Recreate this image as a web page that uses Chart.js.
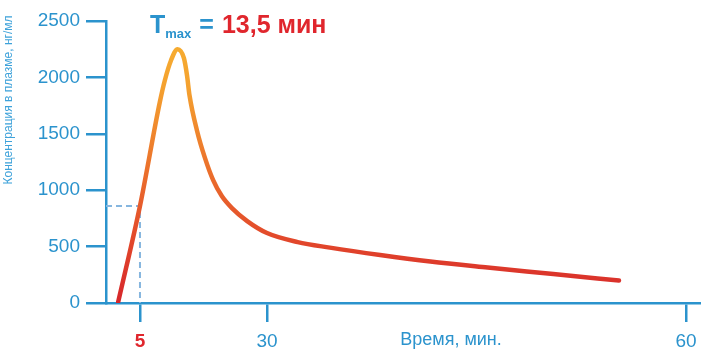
<!DOCTYPE html>
<html>
<head>
<meta charset="utf-8">
<script src="https://cdn.jsdelivr.net/npm/chart.js@4/dist/chart.umd.min.js"></script>
<style>
  html, body { margin: 0; padding: 0; background: #fff; }
  #wrap { width: 701px; height: 349px; position: relative; }
</style>
</head>
<body>
<div id="wrap"><canvas id="chart"></canvas></div>
<script>
// time (min) / concentration (ng/ml)
const curveTime = [1.8, 5, 8.9, 9.9, 11.1, 12.4, 13.65, 14.25, 14.75, 16.2, 17.8, 19.4, 21.1, 23.1, 26.1, 30, 32.2, 34.5, 38.1, 41.7, 45.8, 50.5, 55.2];
const curveConc = [10, 860, 1780, 1975, 2150, 2250, 2170, 2020, 1840, 1532, 1284, 1089, 948, 841, 726, 620, 540, 491, 425, 367, 314, 257, 199];

// dashed guide at t = 5 min
const guideTime = [0, 5, 5];
const guideConc = [860, 860, 0];

const xTickValues = [5, 30, 60];
const yTickMax = 2500;
const yTickStep = 500;

const BLUE = '#2b93cd';
const RED = '#e0262d';

// the time axis in the picture is not linear: stretched after 30 min
const xBreakValues = [0, 5, 30, 60, 61];
const xBreakFractions = [0, 0.0571, 0.2706, 0.9748, 1];

class PiecewiseScale extends Chart.LinearScale {
    static id = 'piecewise';
    static defaults = Chart.LinearScale.defaults;

    getPixelForValue(value) {
        const v = xBreakValues, f = xBreakFractions;
        let i = 1;
        while (i < v.length - 1 && value > v[i]) i++;
        const t = (value - v[i - 1]) / (v[i] - v[i - 1]);
        return this.getPixelForDecimal(f[i - 1] + t * (f[i] - f[i - 1]));
    }

    getValueForPixel(pixel) {
        const d = this.getDecimalForPixel(pixel);
        const v = xBreakValues, f = xBreakFractions;
        let i = 1;
        while (i < f.length - 1 && d > f[i]) i++;
        const t = (d - f[i - 1]) / (f[i] - f[i - 1]);
        return v[i - 1] + t * (v[i] - v[i - 1]);
    }
}
Chart.register(PiecewiseScale);

const curveData = curveTime.map((t, i) => ({ x: t, y: curveConc[i] }));
const guideData = guideTime.map((t, i) => ({ x: t, y: guideConc[i] }));

function curveGradient(context) {
    const { ctx, chartArea, scales } = context.chart;
    if (!chartArea) return '#e0452a';
    const bottom = scales.y.getPixelForValue(0);
    const top = scales.y.getPixelForValue(Math.max(...curveConc));
    const g = ctx.createLinearGradient(0, bottom, 0, top);
    g.addColorStop(0, '#d6262b');
    g.addColorStop(0.25, '#e2482b');
    g.addColorStop(0.55, '#ec742c');
    g.addColorStop(0.85, '#f4a12f');
    g.addColorStop(1, '#f6ab30');
    return g;
}

const labelsPlugin = {
    id: 'labels',
    afterDraw(chart) {
        const ctx = chart.ctx;
        ctx.save();

        // T_max = 13,5 мин
        ctx.textBaseline = 'alphabetic';
        ctx.textAlign = 'left';
        let x = 150;
        ctx.font = 'bold 25px "Liberation Sans", Arial, sans-serif';
        ctx.fillStyle = BLUE;
        ctx.fillText('T', x, 33);
        x += ctx.measureText('T').width;
        ctx.font = 'bold 13px "Liberation Sans", Arial, sans-serif';
        ctx.fillText('max', x, 38);
        x += ctx.measureText('max').width + 8;
        ctx.font = 'bold 25px "Liberation Sans", Arial, sans-serif';
        ctx.fillText('=', x, 33);
        x += ctx.measureText('=').width + 8;
        ctx.fillStyle = RED;
        ctx.fillText('13,5 мин', x, 33);

        // x axis title
        ctx.font = '18px "Liberation Sans", Arial, sans-serif';
        ctx.fillStyle = BLUE;
        ctx.textAlign = 'center';
        ctx.textBaseline = 'middle';
        ctx.fillText('Время, мин.', 451, 340);

        // y axis title
        ctx.translate(9, 100);
        ctx.rotate(-Math.PI / 2);
        ctx.font = '12px "Liberation Sans", Arial, sans-serif';
        ctx.fillStyle = '#3ea2da';
        ctx.fillText('Концентрация в плазме, нг/мл', 0, 0);

        ctx.restore();
    }
};

new Chart(document.getElementById('chart'), {
    type: 'line',
    data: {
        datasets: [
            {
                data: curveData,
                borderColor: curveGradient,
                borderWidth: 4.5,
                borderCapStyle: 'round',
                borderJoinStyle: 'round',
                pointRadius: 0,
                cubicInterpolationMode: 'monotone',
                fill: false,
                order: 1
            },
            {
                data: guideData,
                borderColor: '#86b6df',
                borderWidth: 2,
                borderDash: [6, 4],
                pointRadius: 0,
                tension: 0,
                fill: false,
                order: 2
            }
        ]
    },
    options: {
        responsive: true,
        maintainAspectRatio: false,
        animation: false,
        layout: { padding: { top: 21, right: 0, left: 0, bottom: 0 } },
        plugins: {
            legend: { display: false },
            tooltip: { enabled: false }
        },
        scales: {
            x: {
                type: 'piecewise',
                min: 0,
                max: 61,
                afterBuildTicks: (scale) => {
                    scale.ticks = xTickValues.map(v => ({ value: v }));
                },
                afterFit: (scale) => {
                    scale.height = 46;
                    scale.paddingLeft = 0;
                    scale.paddingRight = 0;
                },
                border: { color: BLUE, width: 2.5 },
                grid: {
                    drawOnChartArea: false,
                    tickLength: 19,
                    color: BLUE,
                    lineWidth: 2.5
                },
                ticks: {
                    padding: 8,
                    maxRotation: 0,
                    autoSkip: false,
                    callback: (v) => String(v),
                    color: (c) => c.tick && c.tick.value === 5 ? RED : BLUE,
                    font: (c) => ({
                        family: '"Liberation Sans", Arial, sans-serif',
                        size: 19,
                        weight: c.tick && c.tick.value === 5 ? 'bold' : 'normal'
                    })
                }
            },
            y: {
                min: 0,
                max: yTickMax,
                afterFit: (scale) => { scale.width = 106; },
                border: { color: BLUE, width: 2.5 },
                grid: {
                    drawOnChartArea: false,
                    tickLength: 20,
                    color: BLUE,
                    lineWidth: 2.5
                },
                ticks: {
                    stepSize: yTickStep,
                    padding: 6,
                    callback: (v) => String(v),
                    color: BLUE,
                    font: { family: '"Liberation Sans", Arial, sans-serif', size: 19 }
                }
            }
        }
    },
    plugins: [labelsPlugin]
});
</script>
</body>
</html>
